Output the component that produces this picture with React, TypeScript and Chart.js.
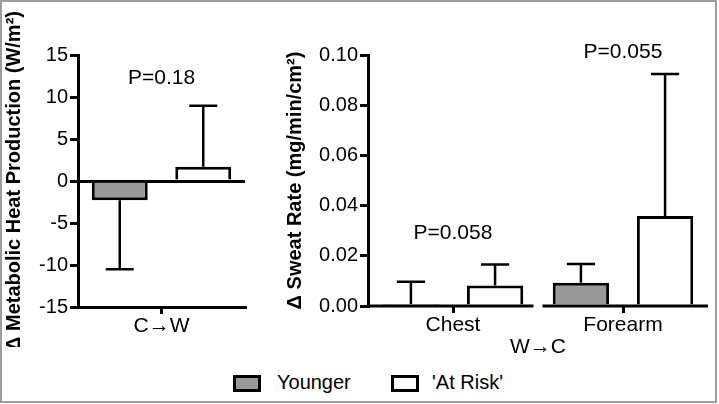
import React, { useEffect, useRef } from 'react';
import { Chart, registerables } from 'chart.js';

Chart.register(...registerables);

// ---------- data ----------
const seriesNames = ['Younger', "'At Risk'"];
const seriesColors = ['#999999', '#ffffff'];

const leftCategories = ['C→W'];
const leftYounger = [-2.3];
const leftAtRisk = [1.7];
const leftYoungerErr = [8.2];
const leftAtRiskErr = [7.25];
const leftPLabels = ['P=0.18'];
const leftPLabelY = [12.2];
const leftTitle = 'Δ Metabolic Heat Production (W/m²)';
const leftMin = -15;
const leftMax = 15;
const leftStep = 5;

const rightCategories = ['Chest', 'Forearm'];
const rightYounger = [0.0008, 0.0093];
const rightAtRisk = [0.0082, 0.0359];
const rightYoungerErr = [0.0089, 0.0074];
const rightAtRiskErr = [0.0083, 0.0565];
const rightPLabels = ['P=0.058', 'P=0.055'];
const rightPLabelY = [0.029, 0.101];
const rightTitle = 'Δ Sweat Rate (mg/min/cm²)';
const rightXTitle = 'W→C';
const rightMin = 0;
const rightMax = 0.1;
const rightStep = 0.02;

const FONT = "'Liberation Sans', Arial, sans-serif";

// ---------- plugins ----------
const errorBarPlugin = {
  id: 'errorBars',
  afterDatasetsDraw(chart: any) {
    const ctx = chart.ctx;
    const yScale = chart.scales.y;
    chart.data.datasets.forEach((ds: any, i: number) => {
      const meta = chart.getDatasetMeta(i);
      meta.data.forEach((bar: any, j: number) => {
        const v = ds.data[j];
        const e = ds.errors[j];
        const end = v >= 0 ? v + e : v - e;
        const y0 = bar.y;
        const y1 = yScale.getPixelForValue(end);
        const half = bar.width / 4;
        ctx.save();
        ctx.strokeStyle = '#000';
        ctx.lineWidth = 2.5;
        ctx.beginPath();
        ctx.moveTo(bar.x, y0);
        ctx.lineTo(bar.x, y1);
        ctx.moveTo(bar.x - half, y1);
        ctx.lineTo(bar.x + half, y1);
        ctx.stroke();
        ctx.restore();
      });
    });
  },
};

const pLabelPlugin = {
  id: 'pLabels',
  afterDraw(chart: any, _args: any, opts: any) {
    const ctx = chart.ctx;
    const xs = chart.scales.x;
    const ys = chart.scales.y;
    ctx.save();
    ctx.fillStyle = '#000';
    ctx.font = `21px ${FONT}`;
    ctx.textAlign = 'center';
    ctx.textBaseline = 'middle';
    (opts.labels || []).forEach((t: string, j: number) => {
      ctx.fillText(t, xs.getPixelForValue(j), ys.getPixelForValue(opts.values[j]));
    });
    ctx.restore();
  },
};

const brokenAxisPlugin = {
  id: 'brokenAxis',
  afterDraw(chart: any, _args: any, opts: any) {
    if (!opts || !opts.enabled) return;
    const ctx = chart.ctx;
    const xs = chart.scales.x;
    const ys = chart.scales.y;
    const n = chart.data.labels.length;
    const cw = (xs.right - xs.left) / n;
    const gap = opts.gap || 4.5;
    const y = ys.getPixelForValue(ys.min);
    ctx.save();
    ctx.strokeStyle = '#000';
    ctx.lineWidth = 3;
    for (let j = 0; j < n; j++) {
      const c = xs.getPixelForValue(j);
      const l = c - cw / 2 + (j > 0 ? gap : 0);
      const r = c + cw / 2 - (j < n - 1 ? gap : 0);
      ctx.beginPath();
      ctx.moveTo(l, y);
      ctx.lineTo(r, y);
      ctx.stroke();
    }
    ctx.restore();
  },
};

function makeDatasets(a: number[], b: number[], ea: number[], eb: number[], catPct: number) {
  return [a, b].map((data, i) => ({
    label: seriesNames[i],
    data,
    errors: i === 0 ? ea : eb,
    backgroundColor: seriesColors[i],
    borderColor: '#000',
    borderWidth: 3,
    borderSkipped: 'start',
    categoryPercentage: catPct,
    barPercentage: 0.67,
  }));
}

function yAxis(min: number, max: number, step: number, title: string, width: number, titlePad: number, decimals: number, zeroLine: boolean) {
  return {
    min,
    max,
    afterFit: (s: any) => {
      s.width = width;
    },
    border: { display: true, color: '#000', width: 3 },
    grid: {
      drawOnChartArea: zeroLine,
      color: (c: any) => (zeroLine && c.tick && c.tick.value === 0 ? '#000' : 'rgba(0,0,0,0)'),
      tickColor: '#000',
      tickLength: 8,
      lineWidth: 3,
    },
    ticks: {
      stepSize: step,
      padding: 2,
      color: '#000',
      font: { size: 20, family: FONT },
      callback: (v: any) => Number(v).toFixed(decimals),
    },
    title: {
      display: true,
      text: title,
      color: '#000',
      font: { size: 20, weight: 'bold', family: FONT },
      padding: { top: titlePad, bottom: 0 },
    },
  };
}

function LeftChart() {
  const ref = useRef<HTMLCanvasElement>(null);
  useEffect(() => {
    const chart = new Chart(ref.current as HTMLCanvasElement, {
      type: 'bar',
      data: {
        labels: leftCategories,
        datasets: makeDatasets(leftYounger, leftAtRisk, leftYoungerErr, leftAtRiskErr, 1.0) as any,
      },
      options: {
        animation: false,
        responsive: false,
        events: [],
        layout: { padding: { left: 0, top: 55, right: 15, bottom: 0 } },
        plugins: {
          legend: { display: false },
          tooltip: { enabled: false },
          pLabels: { labels: leftPLabels, values: leftPLabelY },
        } as any,
        scales: {
          x: {
            afterFit: (s: any) => {
              s.height = 40;
            },
            border: { display: true, color: '#000', width: 3 },
            grid: { offset: false, drawOnChartArea: false, color: '#000', tickLength: 7, lineWidth: 3 },
            ticks: { padding: 0, color: '#000', font: { size: 21, family: FONT } },
          },
          y: yAxis(leftMin, leftMax, leftStep, leftTitle, 78, 2, 0, true),
        } as any,
      },
      plugins: [errorBarPlugin, pLabelPlugin],
    });
    return () => chart.destroy();
  }, []);
  return <canvas ref={ref} width={260} height={347} style={{ position: 'absolute', left: 0, top: 0 }} />;
}

function RightChart() {
  const ref = useRef<HTMLCanvasElement>(null);
  useEffect(() => {
    const chart = new Chart(ref.current as HTMLCanvasElement, {
      type: 'bar',
      data: {
        labels: rightCategories,
        datasets: makeDatasets(rightYounger, rightAtRisk, rightYoungerErr, rightAtRiskErr, 0.99) as any,
      },
      options: {
        animation: false,
        responsive: false,
        events: [],
        layout: { padding: { left: 0, top: 55, right: 11, bottom: 0 } },
        plugins: {
          legend: { display: false },
          tooltip: { enabled: false },
          pLabels: { labels: rightPLabels, values: rightPLabelY },
          brokenAxis: { enabled: true, gap: 4.5 },
        } as any,
        scales: {
          x: {
            afterFit: (s: any) => {
              s.height = 54;
            },
            border: { display: false },
            grid: { offset: false, drawOnChartArea: false, color: '#000', tickLength: 7, lineWidth: 3 },
            ticks: { padding: 0, color: '#000', font: { size: 21, family: FONT } },
            title: {
              display: true,
              text: rightXTitle,
              color: '#000',
              font: { size: 21, family: FONT },
              padding: { top: 0, bottom: 0 },
            },
          },
          y: yAxis(rightMin, rightMax, rightStep, rightTitle, 88, 3, 2, false),
        } as any,
      },
      plugins: [errorBarPlugin, pLabelPlugin, brokenAxisPlugin],
    });
    return () => chart.destroy();
  }, []);
  return <canvas ref={ref} width={439} height={360} style={{ position: 'absolute', left: 280, top: 0 }} />;
}

function Legend() {
  const items = seriesNames.map((name, i) => ({ name, color: seriesColors[i] }));
  const boxLeft = [233, 391];
  const textLeft = [277, 432];
  return (
    <>
      {items.map((it, i) => (
        <React.Fragment key={i}>
          <div
            style={{
              position: 'absolute',
              left: boxLeft[i],
              top: 375,
              width: 28,
              height: 17,
              boxSizing: 'border-box',
              border: '3px solid #000',
              background: it.color,
            }}
          />
          <div
            style={{
              position: 'absolute',
              left: textLeft[i],
              top: 372,
              fontFamily: FONT,
              fontSize: 20,
              lineHeight: '20px',
              color: '#000',
              whiteSpace: 'nowrap',
            }}
          >
            {it.name}
          </div>
        </React.Fragment>
      ))}
    </>
  );
}

export default function App() {
  return (
    <div
      style={{
        position: 'fixed',
        left: 0,
        top: 0,
        width: 719,
        height: 404,
        background: '#fff',
        overflow: 'hidden',
      }}
    >
      <div
        style={{
          position: 'absolute',
          left: 0,
          top: 0,
          width: 717,
          height: 403,
          boxSizing: 'border-box',
          border: '2px solid #9c9c9c',
        }}
      />
      <LeftChart />
      <RightChart />
      <Legend />
    </div>
  );
}
